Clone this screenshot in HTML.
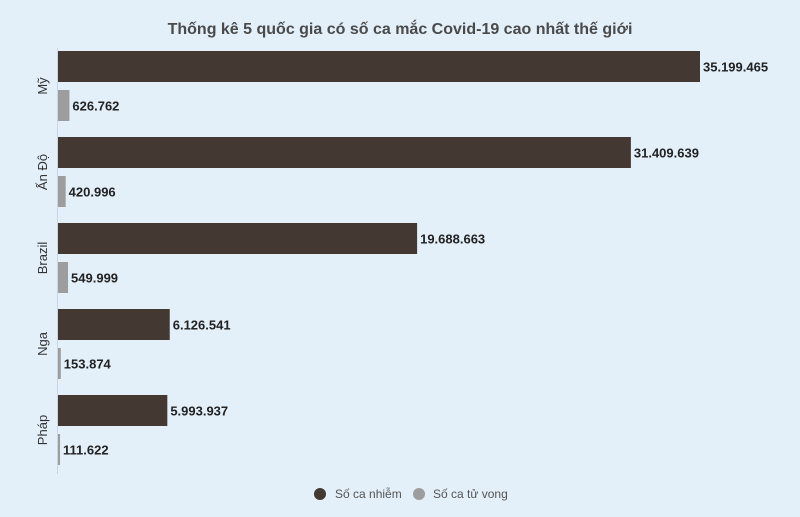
<!DOCTYPE html>
<html><head><meta charset="utf-8"><style>
body{margin:0;background:#e3eff9;font-family:"Liberation Sans",sans-serif}
svg{display:block}
</style></head><body>
<svg width="800" height="517">
<rect width="800" height="517" fill="#e3eff9"/>
<text x="400" y="34" text-anchor="middle" font-size="16" font-weight="bold" fill="#4a4a4a">Thống kê 5 quốc gia có số ca mắc Covid-19 cao nhất thế giới</text>
<line x1="57.5" y1="48" x2="57.5" y2="474" stroke="#c9d6e2" stroke-width="1"/>
<g id="bars"></g>
<circle cx="320" cy="494" r="6" fill="#433832"/>
<text x="335" y="498" font-size="12" fill="#555">Số ca nhiễm</text>
<circle cx="419" cy="494" r="6" fill="#9d9d9d"/>
<text x="433" y="498" font-size="12" fill="#555">Số ca tử vong</text>
</svg>
<script>
const categories=["Mỹ","Ấn Độ","Brazil","Nga","Pháp"];
const infected=[35199465,31409639,19688663,6126541,5993937];
const deaths=[626762,420996,549999,153874,111622];
const NS="http://www.w3.org/2000/svg";
const g=document.getElementById("bars");
const x0=58,pxPerUnit=642/35199465;
const xs=v=>x0+v*pxPerUnit;
const fmt=v=>String(v).replace(/\B(?=(\d{3})+(?!\d))/g,".");
function mk(t,a){const e=document.createElementNS(NS,t);for(const k in a)e.setAttribute(k,a[k]);g.appendChild(e);return e;}
categories.forEach((c,i)=>{
  const top=51+i*86;
  [[infected[i],top,31,"#433832","infected"],[deaths[i],top+39,31,"#9d9d9d","deaths"]].forEach(([v,y,h,col,s])=>{
    const r=mk("rect",{x:x0,y:y,width:Math.max(1.5,xs(v)-x0),height:h,fill:col});
    
    
    const t=mk("text",{x:xs(v)+3,y:y+h/2+5,"font-size":"13","font-weight":"bold",fill:"#222"});
    t.textContent=fmt(v);
    
    
  });
  const cy=top+35;
  const l=mk("text",{x:0,y:0,"font-size":"13",fill:"#333","text-anchor":"middle",transform:`translate(47,${cy}) rotate(-90)`});
  l.textContent=c;
  
  
});
</script>
</body></html>
